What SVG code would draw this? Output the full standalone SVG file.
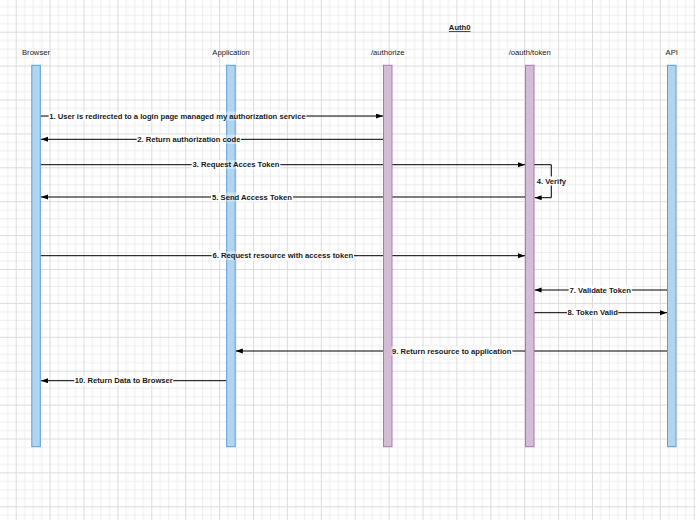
<svg xmlns="http://www.w3.org/2000/svg" width="696" height="520" viewBox="0 0 696 520">
<defs>
<pattern id="grid" x="15.7" y="31.7" width="33.9" height="33.9" patternUnits="userSpaceOnUse">
<rect x="8.475" y="0" width="1" height="33.9" fill="#ededed"/>
<rect x="16.95" y="0" width="1" height="33.9" fill="#ededed"/>
<rect x="25.425" y="0" width="1" height="33.9" fill="#ededed"/>
<rect x="0" y="8.475" width="33.9" height="1" fill="#ededed"/>
<rect x="0" y="16.95" width="33.9" height="1" fill="#ededed"/>
<rect x="0" y="25.425" width="33.9" height="1" fill="#ededed"/>
<rect x="0" y="0" width="1" height="33.9" fill="#dcdcdc"/>
<rect x="0" y="0" width="33.9" height="1" fill="#dcdcdc"/>
</pattern>
<marker id="arr" markerUnits="userSpaceOnUse" markerWidth="8" markerHeight="6" refX="7" refY="2.5" orient="auto">
<path d="M0,0 L7,2.5 L0,5 Z" fill="#000"/>
</marker>
<style>
.hdr{font-family:"Liberation Sans",Arial,sans-serif;font-size:7.65px;fill:#1a1a1a;text-anchor:middle}
.ttl{font-family:"Liberation Sans",Arial,sans-serif;font-size:7.65px;font-weight:bold;fill:#1a1a1a;text-anchor:middle;text-decoration:underline}
.lbl{font-family:"Liberation Sans",Arial,sans-serif;font-size:7.65px;font-weight:bold;fill:#1a1a1a;text-anchor:middle}
.blue{fill:#b1d5f0;stroke:#5a9fd0;stroke-width:1}
.purple{fill:#d5bcd6;stroke:#a57aae;stroke-width:1}
.msg{fill:none;stroke:#000;stroke-width:1;marker-end:url(#arr)}
.lbg{fill:#fff}
.lbg2{fill:#fff;fill-opacity:0.4}
</style>
</defs>
<rect x="0" y="0" width="696" height="520" fill="#fff"/>
<rect x="0" y="0" width="696" height="520" fill="url(#grid)"/>
<text class="ttl" x="459.7" y="30">Auth0</text>
<g id="connectors">
<path class="msg" d="M40.3 116 H383"/>
<path class="msg" d="M383.5 139.3 H41"/>
<path class="msg" d="M40.3 164.7 H525"/>
<path class="msg" d="M534 164.7 H551.3 V197.7 H534.6"/>
<path class="msg" d="M525.5 197 H41"/>
<path class="msg" d="M40.3 255.7 H525"/>
<path class="msg" d="M667.5 290 H534.6"/>
<path class="msg" d="M534 312.7 H667"/>
<path class="msg" d="M667.5 351 H235.8"/>
<path class="msg" d="M226.7 380.7 H41"/>
<rect class="lbg" x="48.7" y="111.5" width="257.6" height="9"/>
<rect class="lbg" x="136.7" y="134.8" width="104.3" height="9"/>
<rect class="lbg" x="191.7" y="160.2" width="88.6" height="9"/>
<rect class="lbg" x="536" y="176.5" width="31" height="9"/>
<rect class="lbg" x="211" y="192.5" width="82" height="9"/>
<rect class="lbg" x="211.7" y="251.2" width="142.3" height="9"/>
<rect class="lbg" x="568.7" y="285.5" width="63" height="9"/>
<rect class="lbg" x="567" y="308.2" width="51.3" height="9"/>
<rect class="lbg" x="391" y="346.5" width="121.3" height="9"/>
<rect class="lbg" x="74.3" y="376.2" width="99" height="9"/>
</g>
<g id="browser">
<text class="hdr" x="36" y="55">Browser</text>
<rect class="blue" x="31.8" y="65.3" width="8.5" height="381.4"/>
</g>
<g id="application">
<text class="hdr" x="231" y="55">Application</text>
<rect class="blue" x="226.7" y="65.3" width="8.5" height="381.4"/>
</g>
<g id="authorize">
<text class="hdr" x="387.75" y="55">/authorize</text>
<rect class="purple" x="383.5" y="65.3" width="8.5" height="381.4"/>
</g>
<g id="oauth-token">
<text class="hdr" x="529.75" y="55">/oauth/token</text>
<rect class="purple" x="525.5" y="65.3" width="8.5" height="381.4"/>
</g>
<g id="api">
<text class="hdr" x="671.75" y="55">API</text>
<rect class="blue" x="667.5" y="65.3" width="8.5" height="381.4"/>
</g>
<g id="connector-labels">
<rect class="lbg2" x="48.7" y="111.5" width="257.6" height="9"/>
<rect class="lbg2" x="136.7" y="134.8" width="104.3" height="9"/>
<rect class="lbg2" x="191.7" y="160.2" width="88.6" height="9"/>
<rect class="lbg2" x="211" y="192.5" width="82" height="9"/>
<rect class="lbg2" x="211.7" y="251.2" width="142.3" height="9"/>
<rect class="lbg2" x="391" y="346.5" width="121.3" height="9"/>
<text class="lbl" x="177.5" y="118.7">1. User is redirected to a login page managed my authorization service</text>
<text class="lbl" x="188.8" y="142">2. Return authorization code</text>
<text class="lbl" x="236" y="167.4">3. Request Acces Token</text>
<text class="lbl" x="551.3" y="183.7">4. Verify</text>
<text class="lbl" x="252" y="199.7">5. Send Access Token</text>
<text class="lbl" x="282.8" y="258.4">6. Request resource with access token</text>
<text class="lbl" x="600.2" y="292.7">7. Validate Token</text>
<text class="lbl" x="592.7" y="315.4">8. Token Valid</text>
<text class="lbl" x="451.7" y="353.7">9. Return resource to application</text>
<text class="lbl" x="123.8" y="383.4">10. Return Data to Browser</text>
</g>
</svg>
